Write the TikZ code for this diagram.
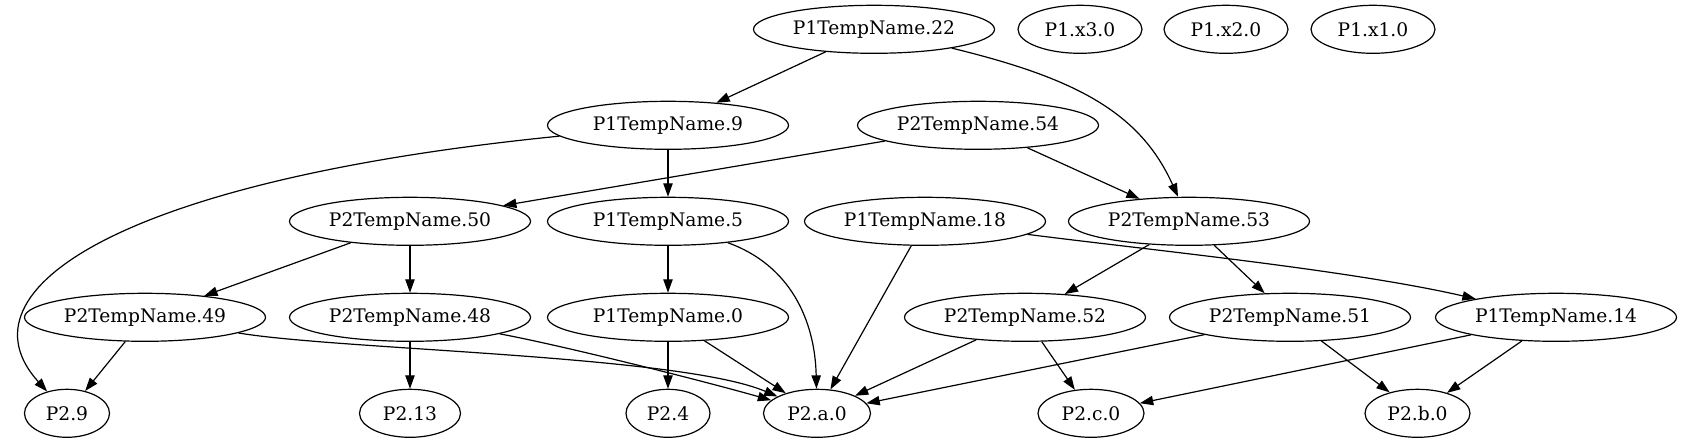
\documentclass[tikz,border=0pt]{standalone}
\usepackage{fontspec}
\setmainfont{DejaVu Serif}
\usetikzlibrary{arrows.meta,shapes.geometric}
\tikzset{
  nd/.style={draw, ellipse, line width=0.9pt, minimum height=36pt, minimum width=180.75pt, inner xsep=0pt, inner ysep=0pt, font=\fontsize{14pt}{16pt}\selectfont},
  ed/.style={line width=0.9pt, -{Triangle[length=10pt,width=7pt]}}
}
\begin{document}
\begin{tikzpicture}[x=0.75pt,y=-0.75pt]
\path[use as bounding box] (0,0) rectangle (1682,443);
% rank 1
\node[nd] (t22) at (874,29.3) {P1TempName.22};
\node[nd, minimum width=93pt] (x3) at (1080,29.3) {P1.x3.0};
\node[nd, minimum width=93pt] (x2) at (1226,29.3) {P1.x2.0};
\node[nd, minimum width=93pt] (x1) at (1373,29.3) {P1.x1.0};
% rank 2
\node[nd] (t9) at (668,125.3) {P1TempName.9};
\node[nd] (p54) at (978,125.3) {P2TempName.54};
% rank 3
\node[nd] (p50) at (410,221.3) {P2TempName.50};
\node[nd] (t5) at (668,221.3) {P1TempName.5};
\node[nd] (t18) at (925,221.3) {P1TempName.18};
\node[nd] (p53) at (1189,221.3) {P2TempName.53};
% rank 4
\node[nd] (p49) at (145,317.3) {P2TempName.49};
\node[nd] (p48) at (410,317.3) {P2TempName.48};
\node[nd] (t0) at (668,317.3) {P1TempName.0};
\node[nd] (p52) at (1025,317.3) {P2TempName.52};
\node[nd] (p51) at (1290,317.3) {P2TempName.51};
\node[nd] (t14) at (1556,317.3) {P1TempName.14};
% rank 5
\node[nd, minimum width=63.75pt] (q9) at (67,413.3) {P2.9};
\node[nd, minimum width=75.75pt] (q13) at (410,413.3) {P2.13};
\node[nd, minimum width=63pt] (q4) at (668,413.3) {P2.4};
\node[nd, minimum width=80.25pt] (qa) at (817,413.3) {P2.a.0};
\node[nd, minimum width=79.5pt] (qc) at (1091,413.3) {P2.c.0};
\node[nd, minimum width=78.75pt] (qb) at (1417.5,413.3) {P2.b.0};
% edges
\draw[ed] (t22) -- (t9);
\draw[ed] (t22) .. controls (1075,78) and (1140,112) .. (p53);
\draw[ed] (t9) -- (t5);
\draw[ed] (t9) .. controls (120,180) and (-45,290) .. (q9);
\draw[ed] (p54) -- (p50);
\draw[ed] (p54) -- (p53);
\draw[ed] (p50) -- (p49);
\draw[ed] (p50) -- (p48);
\draw[ed] (t5) -- (t0);
\draw[ed] (t5) .. controls (790,265) and (815,320) .. (qa);
\draw[ed] (t18) -- (qa);
\draw[ed] (t18) .. controls (1150,250) and (1350,270) .. (t14);
\draw[ed] (p53) -- (p52);
\draw[ed] (p53) -- (p51);
\draw[ed] (p49) -- (q9);
\draw[ed] (p49) .. controls (340,350) and (680,355) .. (qa);
\draw[ed] (p48) .. controls (560,345) and (700,380) .. (qa);
\draw[ed] (p48) -- (q13);
\draw[ed] (t0) -- (q4);
\draw[ed] (t0) -- (qa);
\draw[ed] (p52) -- (qa);
\draw[ed] (p52) -- (qc);
\draw[ed] (p51) -- (qa);
\draw[ed] (p51) -- (qb);
\draw[ed] (t14) -- (qc);
\draw[ed] (t14) -- (qb);
\end{tikzpicture}
\end{document}
